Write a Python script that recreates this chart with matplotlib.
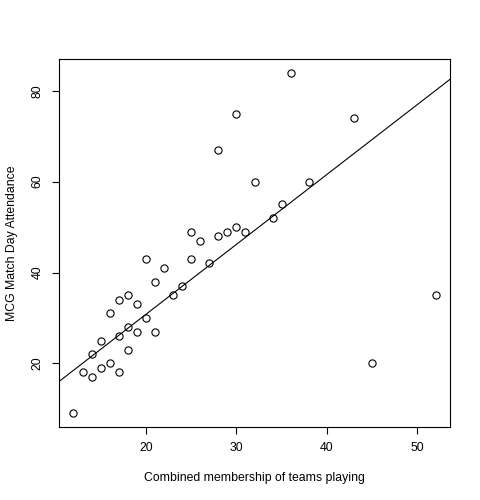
import numpy as np
import matplotlib
matplotlib.use("Agg")
import matplotlib.pyplot as plt

# combined membership (x) vs MCG attendance (y)
membership = [12, 13, 14, 14, 15, 15, 16, 16, 17, 17, 17, 18, 18, 18, 19, 19,
              20, 20, 21, 21, 22, 23, 24, 25, 25, 26, 27, 28, 28, 29, 30, 30,
              31, 32, 34, 35, 36, 38, 43, 45, 52]
attendance = [9, 18, 22, 17, 25, 19, 31, 20, 34, 26, 18, 35, 28, 23, 33, 27,
              43, 30, 38, 27, 41, 35, 37, 49, 43, 47, 42, 48, 67, 49, 50, 75,
              49, 60, 52, 55, 84, 60, 74, 20, 35]
x_ticks = [20, 30, 40, 50]
y_ticks = [20, 40, 60, 80]

plt.rcParams['font.family'] = ['Liberation Sans', 'DejaVu Sans']
fs = 8.8

fig = plt.figure(figsize=(4.8, 5.0), dpi=100)
ax = fig.add_axes([59 / 480, 1 - 427 / 500, (450 - 59) / 480, (427 - 59) / 500])

x = np.array(membership, dtype=float)
y = np.array(attendance, dtype=float)
ax.plot(x, y, 'o', mfc='none', mec='black', ms=5.2, mew=0.8)

# least squares line through the origin, drawn across the plot like abline()
slope = (x * y).sum() / (x * x).sum()
pad_x = (x.max() - x.min()) * 0.04
pad_y = (y.max() - y.min()) * 0.04
xlim = (x.min() - pad_x, x.max() + pad_x)
xs = np.array(xlim)
ax.plot(xs, slope * xs, color='black', lw=0.8)

ax.set_xlim(xlim)
ax.set_ylim(y.min() - pad_y, y.max() + pad_y)

ax.set_xticks(x_ticks)
ax.set_yticks(y_ticks)
ax.set_xticklabels([str(t) for t in x_ticks], fontsize=fs)
ax.set_yticklabels([str(t) for t in y_ticks], fontsize=fs, rotation=90, va='center')
ax.tick_params(direction='out', length=5, width=0.8, pad=6)
for s in ax.spines.values():
    s.set_linewidth(0.8)

ax.set_xlabel('Combined membership of teams playing', fontsize=fs, labelpad=13)
ax.set_ylabel('MCG Match Day Attendance', fontsize=fs, labelpad=10)

fig.savefig('out.png', dpi=100)
